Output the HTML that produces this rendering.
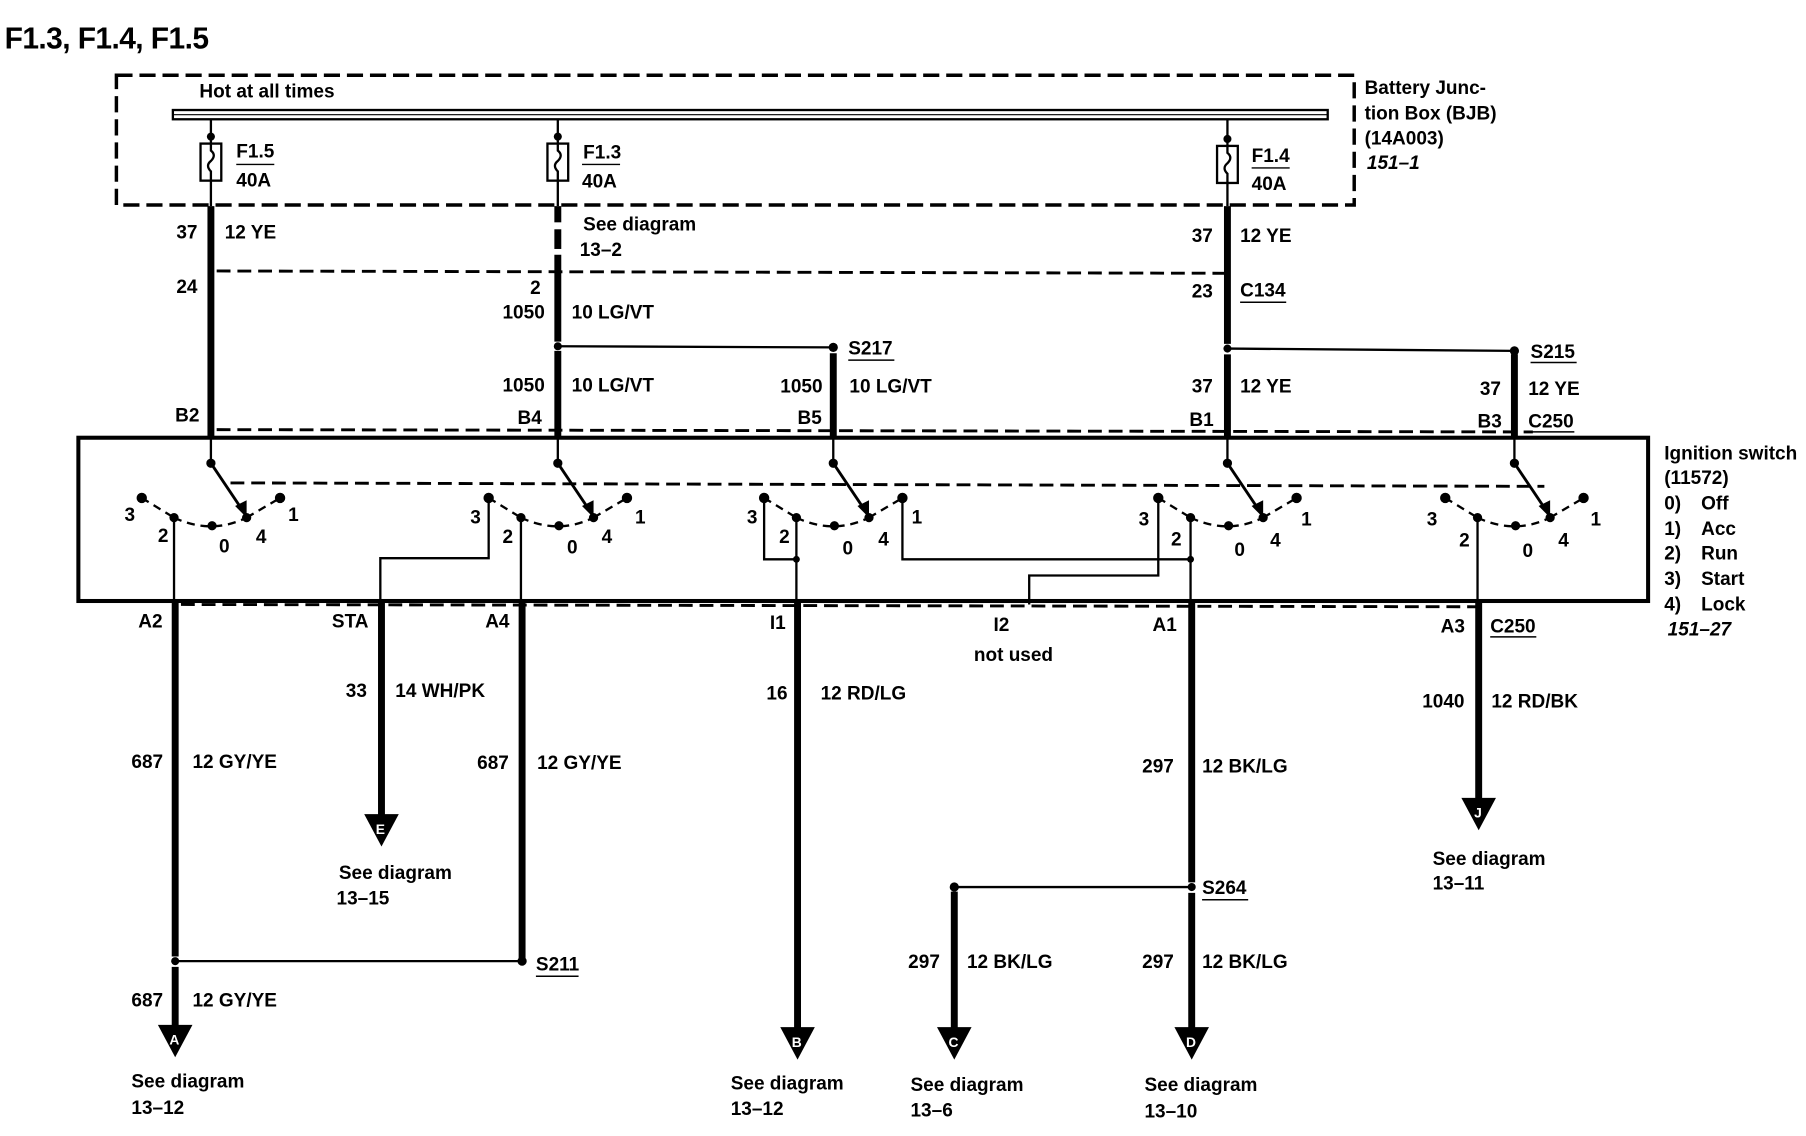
<!DOCTYPE html>
<html><head><meta charset="utf-8"><style>
html,body{margin:0;padding:0;background:#fff;}
svg{display:block}
text{font-family:"Liberation Sans",sans-serif;font-weight:bold;font-size:16.5px;fill:#000;letter-spacing:0}
</style></head><body>
<svg width="1806" height="1136" viewBox="0 0 1567 981" preserveAspectRatio="none" xmlns="http://www.w3.org/2000/svg">
<defs>
<g id="sw">
<line x1="0" y1="378" x2="0" y2="400" stroke="#000" stroke-width="2"/>
<circle cx="0" cy="400" r="4"/>
<line x1="0" y1="400" x2="27" y2="440" stroke="#000" stroke-width="2.5"/>
<polygon points="31,447 21,437 31,432"/>
<line x1="-60" y1="430" x2="-32" y2="447" stroke="#000" stroke-width="2" stroke-dasharray="7 5"/>
<path d="M-32,447 Q0,462 31,447" fill="none" stroke="#000" stroke-width="2" stroke-dasharray="7 5"/>
<line x1="31" y1="447" x2="60" y2="430" stroke="#000" stroke-width="2" stroke-dasharray="7 5"/>
<circle cx="-60" cy="430" r="4.5"/><circle cx="-32" cy="447" r="4"/><circle cx="1" cy="454" r="4"/><circle cx="31" cy="447" r="4"/><circle cx="60" cy="430" r="4.5"/>
</g>
</defs>
<text x="4" y="42" style="font-size:26px;letter-spacing:-0.5px">F1.3, F1.4, F1.5</text>
<rect x="101" y="65" width="1074" height="112" fill="none" stroke="#000" stroke-width="3" stroke-dasharray="14 6"/>
<rect x="150" y="95" width="1002" height="8" fill="#fff" stroke="#000" stroke-width="2"/>
<line x1="150" y1="99" x2="1152" y2="99" stroke="#000" stroke-width="1"/>
<text x="173" y="84">Hot at all times</text>
<g stroke="#000" stroke-width="2" fill="none">
<line x1="183" y1="103" x2="183" y2="178"/><rect x="174" y="124" width="18" height="32" fill="#fff"/><path d="M183,124 v6 q5,4 0,9 q-5,4 0,9 v8"/>
<line x1="484" y1="103" x2="484" y2="178"/><rect x="475" y="124" width="18" height="32" fill="#fff"/><path d="M484,124 v6 q5,4 0,9 q-5,4 0,9 v8"/>
<line x1="1065" y1="103" x2="1065" y2="178"/><rect x="1056" y="126" width="18" height="32" fill="#fff"/><path d="M1065,126 v6 q5,4 0,9 q-5,4 0,9 v8"/>
<line x1="205" y1="142" x2="238" y2="142" stroke-width="1.2"/>
<line x1="505" y1="142" x2="538" y2="142" stroke-width="1.2"/>
<line x1="1086" y1="145" x2="1119" y2="145" stroke-width="1.2"/>
</g>
<circle cx="183" cy="118" r="3.5"/><circle cx="484" cy="118" r="3.5"/><circle cx="1065" cy="120" r="3.5"/>
<text x="205" y="136">F1.5</text><text x="205" y="161">40A</text>
<text x="506" y="137">F1.3</text><text x="505" y="162">40A</text>
<text x="1086" y="140">F1.4</text><text x="1086" y="164">40A</text>
<g stroke="#000" stroke-width="6">
<line x1="183" y1="178" x2="183" y2="378"/>
<line x1="484" y1="178" x2="484" y2="192"/><line x1="484" y1="198" x2="484" y2="215"/><line x1="484" y1="220" x2="484" y2="295"/><line x1="484" y1="303" x2="484" y2="378"/>
<line x1="723" y1="305" x2="723" y2="378"/>
<line x1="1065" y1="178" x2="1065" y2="297"/><line x1="1065" y1="306" x2="1065" y2="378"/>
<line x1="1314" y1="306" x2="1314" y2="378"/>
</g>
<g stroke="#000" stroke-width="2">
<line x1="484" y1="299" x2="723" y2="300"/>
<line x1="1065" y1="301" x2="1314" y2="303"/>
</g>
<circle cx="484" cy="299" r="3.5"/><circle cx="723" cy="300" r="4"/><circle cx="1065" cy="301" r="3.5"/><circle cx="1314" cy="303" r="4"/>
<g stroke="#000" stroke-width="2.5" stroke-dasharray="12 6" fill="none">
<line x1="188" y1="234" x2="1065" y2="236"/>
<line x1="188" y1="371" x2="1330" y2="373"/>
<line x1="157" y1="522" x2="1290" y2="524"/>
<line x1="200" y1="417" x2="1340" y2="420"/>
</g>
<rect x="68" y="378" width="1362" height="141" fill="none" stroke="#000" stroke-width="3.5"/>
<use href="#sw" x="183"/><use href="#sw" x="484"/><use href="#sw" x="723"/><use href="#sw" x="1065"/><use href="#sw" x="1314"/>
<g>
<text x="108" y="450">3</text><text x="137" y="468">2</text><text x="190" y="477">0</text><text x="222" y="469">4</text><text x="250" y="450">1</text>
<text x="408" y="452">3</text><text x="436" y="469">2</text><text x="492" y="478">0</text><text x="522" y="469">4</text><text x="551" y="452">1</text>
<text x="648" y="452">3</text><text x="676" y="469">2</text><text x="731" y="479">0</text><text x="762" y="471">4</text><text x="791" y="452">1</text>
<text x="988" y="454">3</text><text x="1016" y="471">2</text><text x="1071" y="480">0</text><text x="1102" y="472">4</text><text x="1129" y="454">1</text>
<text x="1238" y="454">3</text><text x="1266" y="472">2</text><text x="1321" y="481">0</text><text x="1352" y="472">4</text><text x="1380" y="454">1</text>
</g>
<g stroke="#000" stroke-width="2" fill="none">
<line x1="151" y1="447" x2="151" y2="520"/>
<line x1="452" y1="447" x2="452" y2="520"/>
<polyline points="424,430 424,482 330,482 330,520"/>
<polyline points="663,430 663,483 691,483"/>
<line x1="691" y1="447" x2="691" y2="520"/>
<polyline points="783,430 783,483 1033,483"/>
<line x1="1033" y1="447" x2="1033" y2="520"/>
<polyline points="1005,430 1005,497 893,497 893,522"/>
<line x1="1282" y1="447" x2="1282" y2="520"/>
<line x1="152" y1="830" x2="453" y2="830"/>
<line x1="828" y1="766" x2="1034" y2="766"/>
</g>
<circle cx="691" cy="483" r="3"/><circle cx="1033" cy="483" r="3"/>
<g stroke="#000" stroke-width="6">
<line x1="152" y1="519" x2="152" y2="826"/><line x1="152" y1="835" x2="152" y2="888"/>
<line x1="331" y1="519" x2="331" y2="706"/>
<line x1="453" y1="519" x2="453" y2="828"/>
<line x1="692" y1="519" x2="692" y2="890"/>
<line x1="1034" y1="519" x2="1034" y2="762"/><line x1="1034" y1="771" x2="1034" y2="890"/>
<line x1="828" y1="770" x2="828" y2="890"/>
<line x1="1283" y1="519" x2="1283" y2="692"/>
</g>
<circle cx="152" cy="830" r="3.5"/><circle cx="453" cy="830" r="4"/><circle cx="828" cy="766" r="4"/><circle cx="1034" cy="766" r="3.5"/>
<polygon points="316,703 346,703 331,731"/><text x="326" y="720" style="fill:#fff;font-size:12px">E</text>
<polygon points="137,885 167,885 152,913"/><text x="147" y="902" style="fill:#fff;font-size:12px">A</text>
<polygon points="677,887 707,887 692,915"/><text x="687" y="904" style="fill:#fff;font-size:12px">B</text>
<polygon points="813,887 843,887 828,915"/><text x="823" y="904" style="fill:#fff;font-size:12px">C</text>
<polygon points="1019,887 1049,887 1034,915"/><text x="1029" y="904" style="fill:#fff;font-size:12px">D</text>
<polygon points="1268,689 1298,689 1283,717"/><text x="1279" y="706" style="fill:#fff;font-size:12px">J</text>
<g stroke="#000" stroke-width="1.3">
<line x1="736" y1="311" x2="776" y2="311"/>
<line x1="1076" y1="261" x2="1116" y2="261"/>
<line x1="1328" y1="313" x2="1368" y2="313"/>
<line x1="1326" y1="373" x2="1366" y2="373"/>
<line x1="1293" y1="550" x2="1333" y2="550"/>
<line x1="1043" y1="777" x2="1083" y2="777"/>
<line x1="465" y1="843" x2="502" y2="843"/>
</g>
<text x="153" y="206">37</text><text x="195" y="206">12 YE</text>
<text x="153" y="253">24</text>
<text x="506" y="199">See diagram</text><text x="503" y="221">13–2</text>
<text x="460" y="254">2</text><text x="436" y="275">1050</text><text x="496" y="275">10 LG/VT</text>
<text x="736" y="306">S217</text><text x="677" y="339">1050</text><text x="737" y="339">10 LG/VT</text>
<text x="436" y="338">1050</text><text x="496" y="338">10 LG/VT</text>
<text x="152" y="364">B2</text><text x="449" y="366">B4</text><text x="692" y="366">B5</text>
<text x="1034" y="209">37</text><text x="1076" y="209">12 YE</text>
<text x="1034" y="257">23</text><text x="1076" y="256">C134</text>
<text x="1034" y="339">37</text><text x="1076" y="339">12 YE</text><text x="1032" y="368">B1</text>
<text x="1328" y="309">S215</text><text x="1284" y="341">37</text><text x="1326" y="341">12 YE</text>
<text x="1282" y="369">B3</text><text x="1326" y="369">C250</text>
<text x="1184" y="81">Battery Junc-</text><text x="1184" y="103">tion Box (BJB)</text><text x="1184" y="125">(14A003)</text>
<text x="1186" y="146" font-style="italic">151–1</text>
<text x="1444" y="397">Ignition switch</text><text x="1444" y="418">(11572)</text>
<text x="1444" y="440">0)</text><text x="1476" y="440">Off</text>
<text x="1444" y="462">1)</text><text x="1476" y="462">Acc</text>
<text x="1444" y="483">2)</text><text x="1476" y="483">Run</text>
<text x="1444" y="505">3)</text><text x="1476" y="505">Start</text>
<text x="1444" y="527">4)</text><text x="1476" y="527">Lock</text>
<text x="1447" y="549" font-style="italic">151–27</text>
<text x="120" y="542">A2</text><text x="288" y="542">STA</text><text x="421" y="542">A4</text>
<text x="668" y="543">I1</text><text x="862" y="545">I2</text><text x="845" y="571">not used</text>
<text x="1000" y="545">A1</text><text x="1250" y="546">A3</text><text x="1293" y="546">C250</text>
<text x="300" y="602">33</text><text x="343" y="602">14 WH/PK</text>
<text x="114" y="663">687</text><text x="167" y="663">12 GY/YE</text>
<text x="414" y="664">687</text><text x="466" y="664">12 GY/YE</text>
<text x="665" y="604">16</text><text x="712" y="604">12 RD/LG</text>
<text x="991" y="667">297</text><text x="1043" y="667">12 BK/LG</text>
<text x="1234" y="611">1040</text><text x="1294" y="611">12 RD/BK</text>
<text x="294" y="759">See diagram</text><text x="292" y="781">13–15</text>
<text x="1243" y="747">See diagram</text><text x="1243" y="768">13–11</text>
<text x="1043" y="772">S264</text><text x="465" y="838">S211</text>
<text x="114" y="869">687</text><text x="167" y="869">12 GY/YE</text>
<text x="788" y="836">297</text><text x="839" y="836">12 BK/LG</text>
<text x="991" y="836">297</text><text x="1043" y="836">12 BK/LG</text>
<text x="114" y="939">See diagram</text><text x="114" y="962">13–12</text>
<text x="634" y="941">See diagram</text><text x="634" y="963">13–12</text>
<text x="790" y="942">See diagram</text><text x="790" y="964">13–6</text>
<text x="993" y="942">See diagram</text><text x="993" y="965">13–10</text>
</svg>
</body></html>
